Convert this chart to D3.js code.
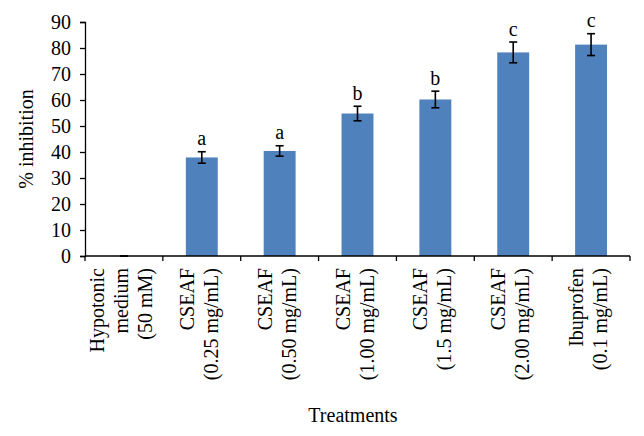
<!DOCTYPE html>
<html><head><meta charset="utf-8">
<script src="https://cdn.jsdelivr.net/npm/d3@7/dist/d3.min.js"></script>
<style>body{margin:0;background:#fff}svg{display:block}text{font-family:"Liberation Serif","Times New Roman",serif}</style>
</head><body><div id="chart"></div>
<script>
const categories = [
  ["Hypotonic","medium","(50 mM)"],
  ["CSEAF","(0.25 mg/mL)"],
  ["CSEAF","(0.50 mg/mL)"],
  ["CSEAF","(1.00 mg/mL)"],
  ["CSEAF","(1.5 mg/mL)"],
  ["CSEAF","(2.00 mg/mL)"],
  ["Ibuprofen","(0.1 mg/mL)"]
];
const values = [0, 37.9, 40.4, 54.8, 60.2, 78.3, 81.3];
const errors = [0, 2.2, 2.0, 2.8, 3.2, 4.0, 4.2];
const letters = ["", "a", "a", "b", "b", "c", "c"];
const yTicks = [0,10,20,30,40,50,60,70,80,90];

const W = 644, H = 436;
const m = {left: 85, right: 14, top: 22, bottom: 180};
const svg = d3.select("#chart").append("svg").attr("width", W).attr("height", H);
const x = d3.scaleBand().domain(d3.range(categories.length)).range([m.left, W - m.right]).paddingInner(0.59).paddingOuter(0.295);
const y = d3.scaleLinear().domain([0, 90]).range([H - m.bottom, m.top]);

// bars
svg.selectAll("rect.bar").data(values).enter().append("rect")
  .attr("class","bar")
  .attr("x", (d,i) => x(i)).attr("width", x.bandwidth())
  .attr("y", d => y(d)).attr("height", d => y(0) - y(d))
  .attr("fill", "#4F81BD");

// error bars
const eg = svg.append("g").attr("stroke", "#000").attr("stroke-width", 1.6);
values.forEach((v,i) => {
  const cx = x(i) + x.bandwidth()/2;
  const e = errors[i];
  eg.append("line").attr("x1", cx).attr("x2", cx).attr("y1", y(v+e)).attr("y2", y(v-e));
  eg.append("line").attr("x1", cx-4).attr("x2", cx+4).attr("y1", y(v+e)).attr("y2", y(v+e));
  eg.append("line").attr("x1", cx-4).attr("x2", cx+4).attr("y1", y(v-e)).attr("y2", y(v-e));
  if (letters[i]) {
    svg.append("text").attr("x", cx).attr("y", y(v+e) - 6.5)
      .attr("text-anchor","middle").attr("font-size", 20).attr("fill","#000").text(letters[i]);
  }
});

// y axis
const yAxis = svg.append("g").attr("transform", `translate(${m.left},0)`)
  .call(d3.axisLeft(y).tickValues(yTicks).tickSize(5).tickPadding(9));
yAxis.selectAll("text").attr("font-size", 20).attr("fill", "#000").attr("font-family","Liberation Serif, serif");
yAxis.select(".domain").attr("stroke", "#000").attr("stroke-width", 1.3);
yAxis.selectAll(".tick line").attr("stroke", "#000").attr("stroke-width", 1.3);

// x axis
const xg = svg.append("g").attr("transform", `translate(0,${y(0)})`);
xg.append("line").attr("x1", m.left).attr("x2", W - m.right).attr("y1", 0).attr("y2", 0)
  .attr("stroke", "#000").attr("stroke-width", 1.3);
const step = x.step();
d3.range(categories.length + 1).forEach(k => {
  const tx = m.left + k * step;
  xg.append("line").attr("x1", tx).attr("x2", tx).attr("y1", 0).attr("y2", 5)
    .attr("stroke", "#000").attr("stroke-width", 1.3);
});
categories.forEach((lines, i) => {
  const cx = x(i) + x.bandwidth()/2;
  const t = xg.append("text").attr("transform", `translate(${cx},12) rotate(-90)`)
    .attr("text-anchor", "end").attr("font-size", 20).attr("fill", "#000");
  const n = lines.length;
  lines.forEach((ln, j) => {
    t.append("tspan").attr("x", 0).attr("y", 4 + (j - (n-1)/2) * 24).text(ln);
  });
});

// axis titles
svg.append("text").attr("x", 353).attr("y", 422).attr("text-anchor","middle")
  .attr("font-size", 20).attr("fill","#000").text("Treatments");
svg.append("text").attr("transform", `translate(33,139) rotate(-90)`).attr("text-anchor","middle")
  .attr("font-size", 20).attr("fill","#000").text("% inhibition");
</script></body></html>
